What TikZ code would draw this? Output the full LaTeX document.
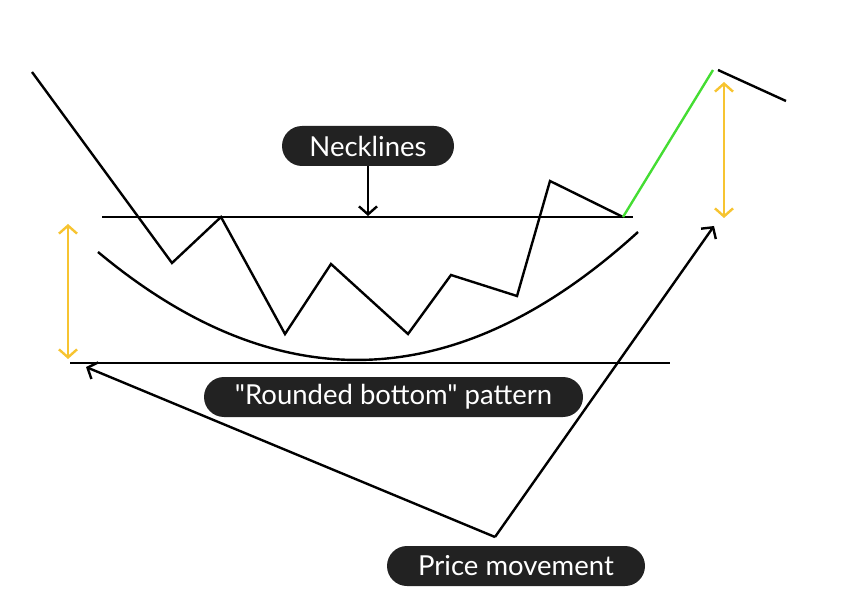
\documentclass[tikz,border=0pt]{standalone}
\usepackage{fontspec}
\setmainfont{Lato}[Ligatures=TeXOff]
\usetikzlibrary{arrows.meta}
\definecolor{boxfill}{HTML}{222222}
\definecolor{ylw}{HTML}{F7C431}
\definecolor{grn}{HTML}{44DD33}
\tikzset{
  lbl/.style={fill=boxfill, text=white, rounded corners=20pt, minimum height=40pt, inner xsep=0pt, font=\fontsize{27.5}{27.5}\selectfont, anchor=center},
  ln/.style={line width=2.4pt, black},
  yarr/.style={line width=2.4pt, ylw, {Straight Barb[length=8pt,width=18pt,line width=2.4pt]}-{Straight Barb[length=8pt,width=18pt,line width=2.4pt]}},
  barr/.style={line width=2.4pt, black, -{Straight Barb[length=8pt,width=18pt,line width=2.4pt]}}
}
\begin{document}
\begin{tikzpicture}[x=1pt,y=-1pt]
\useasboundingbox (0,0) rectangle (852,604);
% price path coordinates
\coordinate (p0) at (32,72);
\coordinate (p1) at (172,263);
\coordinate (p2) at (221,217);
\coordinate (p3) at (285,334);
\coordinate (p4) at (331,264);
\coordinate (p5) at (408,334);
\coordinate (p6) at (451,275);
\coordinate (p7) at (517,296);
\coordinate (p8) at (550,181);
\coordinate (p9) at (623,217);
\coordinate (p10) at (713,70);
\coordinate (q0) at (718,70);
\coordinate (q1) at (786,101);
% necklines
\coordinate (n1a) at (102,217);
\coordinate (n1b) at (633,217);
\coordinate (n2a) at (70,363);
\coordinate (n2b) at (670,363);
% curve
\coordinate (c0) at (98,252);
\coordinate (c1) at (638,232);
% yellow arrows
\coordinate (ya) at (68,224);
\coordinate (yb) at (68,359);
\coordinate (yc) at (724,82);
\coordinate (yd) at (724,218);
% labels
\node[lbl, minimum width=172pt] (neck) at (368,146) {Necklines};
\node[lbl, minimum width=379pt] (round) at (393.5,397) {"Rounded bottom" pattern};
\node[lbl, minimum width=258pt] (price) at (516,566) {Price movement};
\coordinate (neckt) at (368,216);
\coordinate (v) at (495,537);
\coordinate (tl) at (86,367);
\coordinate (tr) at (714,226);

\draw[ln] (n1a) -- (n1b);
\draw[ln] (n2a) -- (n2b);
\draw[ln] (c0) .. controls (278,402) and (458,396) .. (c1);
\draw[ln, line join=miter] (p0) -- (p1) -- (p2) -- (p3) -- (p4) -- (p5) -- (p6) -- (p7) -- (p8) -- (p9);
\draw[line width=2.4pt, grn] (p9) -- (p10);
\draw[ln] (q0) -- (q1);
\draw[yarr] (ya) -- (yb);
\draw[yarr] (yc) -- (yd);
\draw[barr] (neck.south) -- (neckt);
\draw[barr] (v) -- (tl);
\draw[barr] (v) -- (tr);
\end{tikzpicture}
\end{document}
